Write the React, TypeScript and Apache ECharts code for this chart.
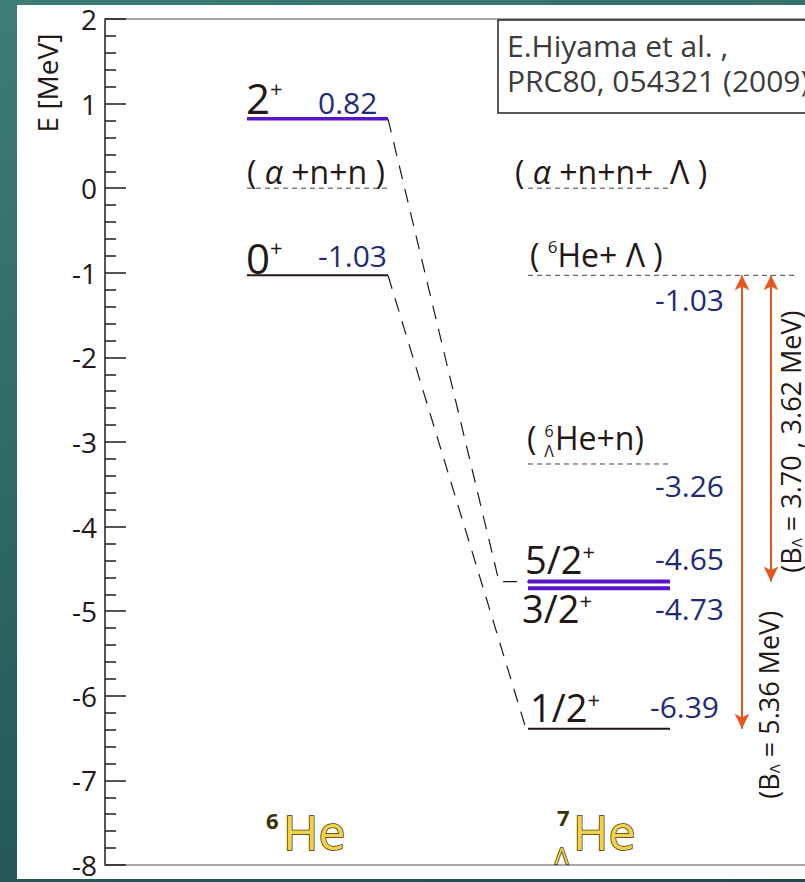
import React, { useEffect, useRef } from 'react';
import * as echarts from 'echarts';

// ===== data =====
const Y_MIN = -8;
const Y_MAX = 2;
const Y_INTERVAL = 1;
const Y_MINOR_SPLIT = 5;

const he6Spins = ['2', '0'];
const he6Parities = ['+', '+'];
const he6Energies = [0.82, -1.03];
const he6ThresholdEnergies = [0]; // (α+n+n)

const he7Spins = ['5/2', '3/2', '1/2'];
const he7Parities = ['+', '+', '+'];
const he7Energies = [-4.65, -4.73, -6.39];
const he7ThresholdEnergies = [0, -1.03, -3.26]; // (α+n+n+Λ), (6He+Λ), (6ΛHe+n)
const he7ThresholdValueShown = [false, true, true];

const correspondence = [[0, 0], [1, 2]]; // 6He state -> 7ΛHe state
const lambdaThresholdEnergy = -1.03;
const bindingStates = [[-6.39], [-4.73, -4.65]];

const citationLines = ['E.Hiyama et al. ,', 'PRC80, 054321 (2009)'];
const axisTitle = 'E [MeV]';

// ===== layout / style =====
const FONT = '"Open Sans", "Noto Sans", sans-serif';
const BLACK = '#231815';
const PURPLE = '#5a14c8';
const NAVY = '#1f2a78';
const ORANGE = '#e8561e';
const THR = '#444';
const X_MAX = 700;
const COL6 = [142, 283];
const COL7 = [423, 565];
const EXT_END = 690;
const ARROW_X = [637, 666];
const KINK_X = [394, 421];
const he6Colors = [PURPLE, BLACK];
const he6Widths = [3.5, 2];
const he7Colors = [PURPLE, PURPLE, BLACK];
const he7Widths = [4, 4, 2];
const he7ThresholdEnds = [COL7[1], EXT_END, COL7[1]];

const LAY = {
  he6SpinDx: -1, he6SpinDy: [-21, -18],
  he6ValX: 213, he6ValDy: [-16, -20],
  he6ThrDy: [-17],
  he7ThrX: [410, 425, 422], he7ThrDy: [-17, -21, -26],
  he7ThrValX: 550, he7ThrValDy: [0, 24, 22],
  he7SpinX: [420, 417, 425], he7SpinDy: [-23, 20, -22],
  he7ValX: [550, 550, 545], he7ValDy: [-23, 20, -22],
};

const tok = (fontSize: number, extra: any = {}) => ({ fontSize, fontFamily: FONT, fill: BLACK, color: BLACK, ...extra });
const rich: any = {
  big: tok(42),
  mid: tok(38),
  sup: tok(22, { verticalAlign: 'top' }),
  num: tok(30, { fill: NAVY, color: NAVY }),
  thr: tok(32),
  al: tok(32, { fontStyle: 'italic' }),
  ts: tok(17, { verticalAlign: 'top' }),
  rb: tok(27),
  rs: tok(15, { verticalAlign: 'bottom' }),
  ax: tok(28),
};

export default function App() {
  const ref = useRef<HTMLDivElement>(null);
  useEffect(() => {
    if (!ref.current) return;
    const chart = echarts.init(ref.current, null, { renderer: 'svg' });
    const level = (x0: number, x1: number, E: number, color: string, width: number, type: any = 'solid', z = 3) => ({
      type: 'line', xAxisIndex: 0, yAxisIndex: 0, data: [[x0, E], [x1, E]], symbol: 'none', silent: true, z,
      lineStyle: { color, width, type },
    });
    const series: any[] = [];
    he6Energies.forEach((E, i) => series.push(level(COL6[0], COL6[1], E, he6Colors[i], he6Widths[i])));
    he6ThresholdEnergies.forEach((E) => series.push(level(COL6[0], COL6[1], E, THR, 1, [5, 4])));
    he7Energies.forEach((E, i) => series.push(level(COL7[0], COL7[1], E, he7Colors[i], he7Widths[i])));
    he7ThresholdEnergies.forEach((E, i) => series.push(level(COL7[0], he7ThresholdEnds[i], E, THR, 1, [5, 4])));
    correspondence.forEach(([a, b], k) => series.push({
      type: 'line', xAxisIndex: 0, yAxisIndex: 0, symbol: 'none', silent: true, z: 2,
      data: [[COL6[1], he6Energies[a]], [KINK_X[k], he7Energies[b]], [COL7[0], he7Energies[b]]],
      lineStyle: { color: BLACK, width: 1.2, type: [14, 10] },
    }));
    series.push({
      type: 'line', xAxisIndex: 0, yAxisIndex: 0, data: [], silent: true,
      markLine: {
        silent: true, symbol: ['arrow', 'arrow'], symbolSize: [11, 15], label: { show: false },
        lineStyle: { color: ORANGE, width: 2, type: 'solid' },
        data: bindingStates.map((s, i) => [
          { coord: [ARROW_X[i], lambdaThresholdEnergy] },
          { coord: [ARROW_X[i], Math.max(...s)] },
        ]),
      },
    });

    const frameAxis = (position: string) => ({
      type: 'value', min: 0, max: X_MAX, position, show: true,
      axisLine: { show: true, onZero: false, lineStyle: { color: '#8a8a8a', width: 1.5 } },
      axisTick: { show: false }, axisLabel: { show: false }, splitLine: { show: false },
    });

    chart.setOption({
      animation: false,
      grid: { left: 105, top: 19, right: 0, bottom: 7, containLabel: false },
      xAxis: [frameAxis('bottom'), frameAxis('top')],
      yAxis: {
        type: 'value', min: Y_MIN, max: Y_MAX, interval: Y_INTERVAL,
        axisLine: { show: true, onZero: false, lineStyle: { color: BLACK, width: 1.5 } },
        axisTick: { show: true, inside: true, length: 21, lineStyle: { color: BLACK, width: 1.5 } },
        minorTick: { show: true, splitNumber: Y_MINOR_SPLIT, length: 11, lineStyle: { color: BLACK, width: 1.5 } },
        axisLabel: { fontSize: 28, color: BLACK, margin: 8, fontFamily: FONT },
        splitLine: { show: false }, minorSplitLine: { show: false },
      },
      series,
    });

    const P = (x: number, E: number) => chart.convertToPixel({ xAxisIndex: 0, yAxisIndex: 0 }, [x, E]) as number[];
    const txt = (x: number, y: number, text: string, o: any = {}) => ({
      type: 'text', x, y, rotation: o.rotation || 0, silent: true, z: 10,
      style: {
        text, rich, fontFamily: FONT, fontSize: o.fontSize || 30, fill: o.fill || BLACK,
        align: o.align || 'left', verticalAlign: 'middle', ...(o.style || {}),
      },
    });
    const g: any[] = [];
    // 6He
    he6Energies.forEach((E, i) => {
      const [px, py] = P(COL6[0], E);
      g.push(txt(px + LAY.he6SpinDx, py + LAY.he6SpinDy[i], `{big|${he6Spins[i]}}{sup|${he6Parities[i]}}`));
      const [vx, vy] = P(LAY.he6ValX, E);
      g.push(txt(vx, vy + LAY.he6ValDy[i], `{num|${E.toFixed(2)}}`));
    });
    he6ThresholdEnergies.forEach((E, i) => {
      const [px, py] = P(COL6[0], E);
      g.push(txt(px, py + LAY.he6ThrDy[i], '{thr|(}{al| α }{thr|+n+n )}'));
    });
    // 7ΛHe thresholds
    he7ThresholdEnergies.forEach((E, i) => {
      const [px, py] = P(LAY.he7ThrX[i], E);
      const y = py + LAY.he7ThrDy[i];
      if (i === 0) g.push(txt(px, y, '{thr|(}{al| α }{thr|+n+n+  Λ )}'));
      if (i === 1) g.push(txt(px, y, '{thr|( }{ts|6}{thr|He+ Λ )}'));
      if (i === 2) {
        g.push(txt(px, y, '{thr|(}'));
        g.push(txt(px + 22, y - 7, '6', { fontSize: 16, align: 'center' }));
        g.push(txt(px + 22, y + 13, 'Λ', { fontSize: 16, align: 'center' }));
        g.push(txt(px + 28, y, '{thr|He+n)}'));
      }
      if (he7ThresholdValueShown[i]) {
        const [vx, vy] = P(LAY.he7ThrValX, E);
        g.push(txt(vx, vy + LAY.he7ThrValDy[i], `{num|${E.toFixed(2)}}`));
      }
    });
    he7Energies.forEach((E, i) => {
      const [px, py] = P(LAY.he7SpinX[i], E);
      g.push(txt(px, py + LAY.he7SpinDy[i], `{mid|${he7Spins[i]}}{sup|${he7Parities[i]}}`));
      const [vx, vy] = P(LAY.he7ValX[i], E);
      g.push(txt(vx, vy + LAY.he7ValDy[i], `{num|${E.toFixed(2)}}`));
    });
    // binding energy labels
    const bindOffsets = [[26, -24], [19, -140]];
    bindingStates.forEach((s, i) => {
      const [ax, ay] = P(ARROW_X[i], Math.max(...s));
      const vals = s.map((E) => (lambdaThresholdEnergy - E).toFixed(2)).join(' , ');
      g.push(txt(ax + bindOffsets[i][0], ay + bindOffsets[i][1], `{rb|(B}{rs|Λ}{rb| = ${vals} MeV)}`, { rotation: Math.PI / 2, align: 'center' }));
    });
    // axis title
    g.push(txt(47, 83, `{ax|${axisTitle}}`, { rotation: Math.PI / 2, align: 'center', fontSize: 28 }));
    // citation box
    g.push({ type: 'rect', silent: true, z: 9, shape: { x: 498, y: 20, width: 340, height: 93 }, style: { fill: '#fff', stroke: '#222', lineWidth: 1.5 } });
    g.push(txt(507, 45, citationLines[0], { fontSize: 30, fill: '#3c3c3c' }));
    g.push(txt(507, 80, citationLines[1], { fontSize: 30, fill: '#3c3c3c' }));
    // nuclei names
    const gold = { fill: '#f3d24b', stroke: '#3d3300', lineWidth: 1.5 };
    g.push(txt(283, 831, 'He', { fontSize: 48, style: gold }));
    g.push(txt(266, 820, '6', { fontSize: 22, fill: '#3a3300', style: { fontWeight: 'bold' } }));
    g.push(txt(573, 831, 'He', { fontSize: 48, style: gold }));
    g.push(txt(557, 817, '7', { fontSize: 22, fill: '#3a3300', style: { fontWeight: 'bold' } }));
    g.push(txt(555, 855, 'Λ', { fontSize: 22, style: gold }));

    chart.setOption({ graphic: g });
    return () => chart.dispose();
  }, []);

  return (
    <div style={{ position: 'fixed', left: 0, top: 0, width: 805, height: 882, overflow: 'hidden', background: 'linear-gradient(160deg, #3d7d74 0%, #2c6560 50%, #1f4a55 100%)' }}>
      <div style={{ position: 'absolute', left: 17, top: 5, width: 788, height: 874, background: '#fff' }} />
      <div ref={ref} style={{ position: 'absolute', left: 0, top: 0, width: 805, height: 879 }} />
    </div>
  );
}
